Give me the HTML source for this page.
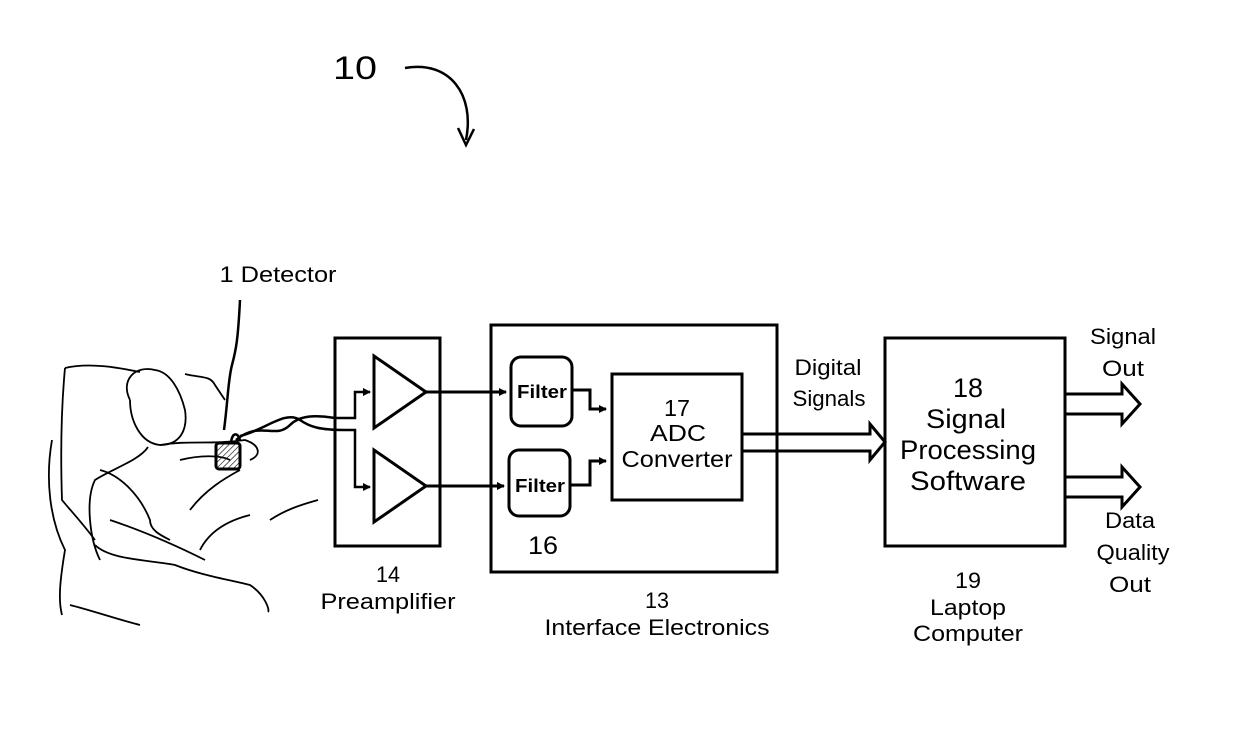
<!DOCTYPE html>
<html><head><style>
body{margin:0;background:#fff;}
svg{display:block;font-family:"Liberation Sans",sans-serif;}
</style></head><body>
<svg width="1240" height="756" viewBox="0 0 1240 756" xmlns="http://www.w3.org/2000/svg">
<defs>
<marker id="ah" markerWidth="8" markerHeight="8" refX="7" refY="4" orient="auto" markerUnits="userSpaceOnUse"><path d="M0,0 L8,4 L0,8 Z" fill="#000"/></marker>
<pattern id="hat" width="4" height="4" patternUnits="userSpaceOnUse" patternTransform="rotate(45)"><line x1="0" y1="0" x2="0" y2="4" stroke="#000" stroke-width="1.2"/></pattern>
</defs>
<g fill="none" stroke="#000">
<path d="M405,68 C450,60 475,95 466,140" stroke-width="2.5"/>
<path d="M458,128 L466,145 L474,129" stroke-width="2.5"/>
<path d="M240,300 C238,340 236,350 232,365 C228,380 228,400 224,430" stroke-width="2.5"/>
<g stroke-width="1.8">
<path d="M65,368 C90,362 120,368 140,372"/>
<path d="M65,368 C62,400 60,440 62,500 C70,510 80,520 95,540"/>
<path d="M52,440 C45,480 50,520 65,550 C60,580 58,600 62,615"/>
<path d="M185,374 C200,378 210,375 215,385 L225,400"/>
<path d="M130,400 C120,380 135,365 155,370 C170,372 180,390 185,410 C188,430 180,445 160,445 C140,443 130,420 130,400"/>
<path d="M148,447 C140,460 110,470 95,480 C85,500 90,540 100,560"/>
<path d="M160,445 C190,440 210,445 245,440 C260,445 262,455 250,460"/>
<path d="M100,470 C120,475 140,495 150,520 C150,530 160,535 170,540"/>
<path d="M95,545 C110,560 150,560 175,565 C200,575 230,580 250,585 C265,595 270,610 268,612"/>
<path d="M110,520 C140,530 175,545 205,560"/>
<path d="M270,520 C285,510 300,505 318,500"/>
<path d="M180,460 C200,455 220,455 230,460"/>
<path d="M190,510 C205,490 225,478 240,470"/>
<path d="M200,550 C210,530 230,520 250,515"/>
<path d="M70,605 C90,610 120,620 140,625"/>
</g>
<rect x="216" y="443" width="24" height="26" rx="3" fill="url(#hat)" stroke-width="3"/>
<path d="M231,443 C232,432 238,432 240,440" stroke-width="2.5"/>
<path d="M236,440 C260,420 275,440 290,425 C300,415 315,415 335,418 L355,418 L355,392 L370,392" stroke-width="2.5" marker-end="url(#ah)"/>
<path d="M240,436 C265,430 285,410 300,420 C310,427 320,430 345,430 L355,430 L355,487 L370,487" stroke-width="2.5" marker-end="url(#ah)"/>
<rect x="335" y="338" width="105" height="208" stroke-width="3"/>
<path d="M374,356 L374,428 L426,392 Z" stroke-width="3"/>
<path d="M374,450 L374,522 L426,486 Z" stroke-width="3"/>
<path d="M426,392 L506,392" stroke-width="3" marker-end="url(#ah)"/>
<path d="M426,486 L504,486" stroke-width="3" marker-end="url(#ah)"/>
<rect x="491" y="325" width="286" height="247" stroke-width="3"/>
<rect x="511" y="357" width="61" height="69" rx="10" stroke-width="3"/>
<rect x="509" y="450" width="61" height="66" rx="10" stroke-width="3"/>
<rect x="612" y="374" width="130" height="126" stroke-width="3"/>
<path d="M572,390 L590,390 L590,409 L606,409" stroke-width="3" marker-end="url(#ah)"/>
<path d="M570,485 L590,485 L590,461 L606,461" stroke-width="3" marker-end="url(#ah)"/>
<path d="M742,434 L870,434 L870,424 L885,442 L870,460 L870,451 L742,451" stroke-width="3"/>
<rect x="885" y="338" width="180" height="208" stroke-width="3"/>
<path d="M1065,394 L1122,394 L1122,384 L1140,404 L1122,424 L1122,414 L1065,414" stroke-width="3"/>
<path d="M1065,477 L1122,477 L1122,467 L1140,487 L1122,507 L1122,497 L1065,497" stroke-width="3"/>
</g>
<g fill="#000" text-anchor="middle" lengthAdjust="spacingAndGlyphs">
<text x="355" y="79" font-size="32" textLength="44" lengthAdjust="spacingAndGlyphs">10</text>
<text x="278" y="282" font-size="22" textLength="117" lengthAdjust="spacingAndGlyphs">1 Detector</text>
<text x="388" y="582" font-size="22" textLength="24" lengthAdjust="spacingAndGlyphs">14</text>
<text x="388" y="609" font-size="22" textLength="135" lengthAdjust="spacingAndGlyphs">Preamplifier</text>
<text x="542" y="398" font-size="18" font-weight="bold" textLength="50" lengthAdjust="spacingAndGlyphs">Filter</text>
<text x="540" y="492" font-size="18" font-weight="bold" textLength="50" lengthAdjust="spacingAndGlyphs">Filter</text>
<text x="543" y="554" font-size="25" textLength="30" lengthAdjust="spacingAndGlyphs">16</text>
<text x="677" y="416" font-size="23" textLength="26" lengthAdjust="spacingAndGlyphs">17</text>
<text x="678" y="441" font-size="23" textLength="56" lengthAdjust="spacingAndGlyphs">ADC</text>
<text x="677" y="467" font-size="23" textLength="111" lengthAdjust="spacingAndGlyphs">Converter</text>
<text x="828" y="375" font-size="22" textLength="67" lengthAdjust="spacingAndGlyphs">Digital</text>
<text x="829" y="406" font-size="22" textLength="73" lengthAdjust="spacingAndGlyphs">Signals</text>
<text x="657" y="608" font-size="22" textLength="24" lengthAdjust="spacingAndGlyphs">13</text>
<text x="657" y="635" font-size="22" textLength="225" lengthAdjust="spacingAndGlyphs">Interface Electronics</text>
<text x="968" y="397" font-size="27" textLength="30" lengthAdjust="spacingAndGlyphs">18</text>
<text x="966" y="428" font-size="27" textLength="80" lengthAdjust="spacingAndGlyphs">Signal</text>
<text x="968" y="459" font-size="27" textLength="136" lengthAdjust="spacingAndGlyphs">Processing</text>
<text x="968" y="490" font-size="27" textLength="116" lengthAdjust="spacingAndGlyphs">Software</text>
<text x="968" y="588" font-size="22" textLength="26" lengthAdjust="spacingAndGlyphs">19</text>
<text x="968" y="615" font-size="22" textLength="76" lengthAdjust="spacingAndGlyphs">Laptop</text>
<text x="968" y="641" font-size="22" textLength="110" lengthAdjust="spacingAndGlyphs">Computer</text>
<text x="1123" y="344" font-size="22" textLength="66" lengthAdjust="spacingAndGlyphs">Signal</text>
<text x="1123" y="376" font-size="22" textLength="42" lengthAdjust="spacingAndGlyphs">Out</text>
<text x="1130" y="528" font-size="22" textLength="50" lengthAdjust="spacingAndGlyphs">Data</text>
<text x="1133" y="560" font-size="22" textLength="73" lengthAdjust="spacingAndGlyphs">Quality</text>
<text x="1130" y="592" font-size="22" textLength="42" lengthAdjust="spacingAndGlyphs">Out</text>
</g>
</svg>
</body></html>
